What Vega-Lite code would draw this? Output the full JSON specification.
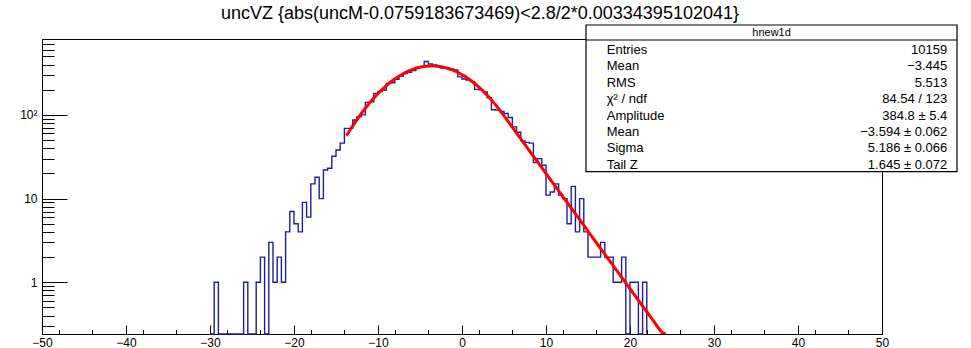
{
  "$schema": "https://vega.github.io/schema/vega-lite/v6.json",
  "width": 840,
  "height": 295,
  "autosize": {"type": "none"},
  "padding": {"left": 42, "top": 39, "right": 89, "bottom": 14},
  "background": "white",
  "title": {
    "text": "uncVZ {abs(uncM-0.0759183673469)<2.8/2*0.00334395102041}",
    "font": "Liberation Sans", "fontSize": 18, "fontWeight": "normal", "color": "black",
    "anchor": "middle", "dx": 18, "offset": -13, "baseline": "alphabetic"
  },
  "config": {
    "view": {"stroke": "black", "strokeWidth": 1},
    "axis": {"domainColor": "black", "tickColor": "black", "labelColor": "black", "labelFont": "Liberation Sans", "labelFontSize": 12, "grid": false, "title": null, "domainWidth": 1, "tickWidth": 1}
  },
  "datasets": {
    "hist": [
      {"x":-30,"n":0},{"x":-29.5,"n":1},{"x":-29,"n":0},{"x":-28.5,"n":0},{"x":-28,"n":0},{"x":-27.5,"n":0},{"x":-27,"n":0},{"x":-26.5,"n":0},{"x":-26,"n":1},{"x":-25.5,"n":0},{"x":-25,"n":0},{"x":-24.5,"n":1},{"x":-24,"n":2},{"x":-23.5,"n":0},{"x":-23,"n":3},{"x":-22.5,"n":1},{"x":-22,"n":2},{"x":-21.5,"n":1},{"x":-21,"n":4},{"x":-20.5,"n":7},{"x":-20,"n":5},{"x":-19.5,"n":4},{"x":-19,"n":9},{"x":-18.5,"n":6},{"x":-18,"n":15},{"x":-17.5,"n":18},{"x":-17,"n":10},{"x":-16.5,"n":22},{"x":-16,"n":23},{"x":-15.5,"n":32},{"x":-15,"n":38},{"x":-14.5,"n":46},{"x":-14,"n":69},{"x":-13.5,"n":69},{"x":-13,"n":87},{"x":-12.5,"n":95},{"x":-12,"n":100},{"x":-11.5,"n":141},{"x":-11,"n":143},{"x":-10.5,"n":181},{"x":-10,"n":190},{"x":-9.5,"n":198},{"x":-9,"n":238},{"x":-8.5,"n":242},{"x":-8,"n":266},{"x":-7.5,"n":292},{"x":-7,"n":313},{"x":-6.5,"n":322},{"x":-6,"n":338},{"x":-5.5,"n":370},{"x":-5,"n":372},{"x":-4.5,"n":435},{"x":-4,"n":405},{"x":-3.5,"n":394},{"x":-3,"n":382},{"x":-2.5,"n":362},{"x":-2,"n":361},{"x":-1.5,"n":355},{"x":-1,"n":344},{"x":-0.5,"n":285},{"x":0,"n":268},{"x":0.5,"n":261},{"x":1,"n":250},{"x":1.5,"n":202},{"x":2,"n":200},{"x":2.5,"n":188},{"x":3,"n":160},{"x":3.5,"n":115},{"x":4,"n":114},{"x":4.5,"n":110},{"x":5,"n":104},{"x":5.5,"n":93},{"x":6,"n":72},{"x":6.5,"n":62},{"x":7,"n":49},{"x":7.5,"n":47},{"x":8,"n":46},{"x":8.5,"n":27},{"x":9,"n":30},{"x":9.5,"n":25},{"x":10,"n":11},{"x":10.5,"n":12},{"x":11,"n":15},{"x":11.5,"n":11},{"x":12,"n":10},{"x":12.5,"n":5},{"x":13,"n":14},{"x":13.5,"n":4},{"x":14,"n":10},{"x":14.5,"n":4},{"x":15,"n":2},{"x":15.5,"n":2},{"x":16,"n":2},{"x":16.5,"n":3},{"x":17,"n":2},{"x":17.5,"n":2},{"x":18,"n":1},{"x":18.5,"n":1},{"x":19,"n":2},{"x":19.5,"n":0},{"x":20,"n":1},{"x":20.5,"n":1},{"x":21,"n":0},{"x":21.5,"n":1},{"x":22,"n":0}
    ],
    "fit": [
      {"x":-13.75,"f":56.5},{"x":-13.25,"f":67.9},{"x":-12.75,"f":81.0},{"x":-12.25,"f":95.5},{"x":-11.75,"f":111.7},{"x":-11.25,"f":129.4},{"x":-10.75,"f":148.5},{"x":-10.25,"f":168.9},{"x":-9.75,"f":190.3},{"x":-9.25,"f":212.3},{"x":-8.75,"f":234.7},{"x":-8.25,"f":257.2},{"x":-7.75,"f":279.1},{"x":-7.25,"f":300.1},{"x":-6.75,"f":319.7},{"x":-6.25,"f":337.5},{"x":-5.75,"f":352.9},{"x":-5.25,"f":365.7},{"x":-4.75,"f":375.4},{"x":-4.25,"f":381.7},{"x":-3.75,"f":384.6},{"x":-3.25,"f":384.0},{"x":-2.75,"f":379.7},{"x":-2.25,"f":372.1},{"x":-1.75,"f":361.2},{"x":-1.25,"f":347.4},{"x":-0.75,"f":331.1},{"x":-0.25,"f":312.6},{"x":0.25,"f":292.4},{"x":0.75,"f":270.9},{"x":1.25,"f":248.8},{"x":1.75,"f":226.3},{"x":2.25,"f":203.9},{"x":2.75,"f":182.1},{"x":3.25,"f":161.1},{"x":3.75,"f":141.2},{"x":4.25,"f":122.6},{"x":4.75,"f":105.5},{"x":5.25,"f":90.06},{"x":5.75,"f":76.85},{"x":6.25,"f":65.58},{"x":6.75,"f":55.96},{"x":7.25,"f":47.75},{"x":7.75,"f":40.75},{"x":8.25,"f":34.77},{"x":8.75,"f":29.67},{"x":9.25,"f":25.32},{"x":9.75,"f":21.6},{"x":10.25,"f":18.43},{"x":10.75,"f":15.73},{"x":11.25,"f":13.42},{"x":11.75,"f":11.45},{"x":12.25,"f":9.773},{"x":12.75,"f":8.339},{"x":13.25,"f":7.116},{"x":13.75,"f":6.072},{"x":14.25,"f":5.181},{"x":14.75,"f":4.421},{"x":15.25,"f":3.773},{"x":15.75,"f":3.219},{"x":16.25,"f":2.747},{"x":16.75,"f":2.344},{"x":17.25,"f":2.0},{"x":17.75,"f":1.707},{"x":18.25,"f":1.457},{"x":18.75,"f":1.243},{"x":19.25,"f":1.061},{"x":19.75,"f":0.905},{"x":20.25,"f":0.772},{"x":20.75,"f":0.659},{"x":21.25,"f":0.562},{"x":21.75,"f":0.48},{"x":22.25,"f":0.41},{"x":22.75,"f":0.35},{"x":23.25,"f":0.298},{"x":23.75,"f":0.255},{"x":24.25,"f":0.217}
    ],
    "stats": [
      {"row":1,"label":"Entries","value":"10159"},
      {"row":2,"label":"Mean","value":"−3.445"},
      {"row":3,"label":"RMS","value":"5.513"},
      {"row":4,"label":"χ² / ndf","value":"84.54 / 123"},
      {"row":5,"label":"Amplitude","value":"384.8 ± 5.4"},
      {"row":6,"label":"Mean","value":"−3.594 ± 0.062"},
      {"row":7,"label":"Sigma","value":"5.186 ± 0.066"},
      {"row":8,"label":"Tail Z","value":"1.645 ± 0.072"}
    ]
  },
  "layer": [
    {
      "layer": [
        {
          "data": {"name": "hist"},
          "mark": {"type": "line", "interpolate": "step-after", "color": "#1f1f99", "strokeWidth": 1.4},
          "encoding": {
            "x": {"field": "x", "type": "quantitative",
              "scale": {"domain": [-50, 50], "nice": false, "zero": false},
              "axis": {
                "orient": "bottom",
                "values": [-50,-40,-30,-20,-10,0,10,20,30,40,50],
                "tickSize": -9,
                "labelPadding": 12, "labelFlush": false, "labelOverlap": false
              }
            },
            "y": {"field": "n", "type": "quantitative",
              "scale": {"type": "log", "domain": [0.241, 807], "nice": false, "clamp": true},
              "axis": {
                "orient": "left",
                "values": [0.3,0.4,0.5,0.6,0.7,0.8,0.9,1,2,3,4,5,6,7,8,9,10,20,30,40,50,60,70,80,90,100,200,300,400,500,600,700,800],
                "labelExpr": "datum.value == 1 ? '1' : datum.value == 10 ? '10' : datum.value == 100 ? '10²' : ''",
                "tickSize": {"condition": {"test": "datum.value == 1 || datum.value == 10 || datum.value == 100", "value": -25}, "value": -12},
                "labelPadding": 30, "labelOverlap": false, "labelFlush": false
              }
            }
          }
        },
        {
          "data": {"name": "fit"},
          "mark": {"type": "line", "color": "#ff0000", "strokeWidth": 3, "clip": true, "interpolate": "monotone"},
          "encoding": {
            "x": {"field": "x", "type": "quantitative"},
            "y": {"field": "f", "type": "quantitative"}
          }
        }
      ]
    },
    {
      "layer": [
        {
          "data": {"values": [{"box": "stats"}]},
          "mark": {"type": "rect", "fill": "white", "stroke": "black", "strokeWidth": 1.2},
          "encoding": {
            "x": {"datum": 14.76, "type": "quantitative",
              "scale": {"domain": [-50, 50], "nice": false, "zero": false},
              "axis": {
                "orient": "bottom",
                "values": [-48,-46,-44,-42,-38,-36,-34,-32,-28,-26,-24,-22,-18,-16,-14,-12,-8,-6,-4,-2,2,4,6,8,12,14,16,18,22,24,26,28,32,34,36,38,42,44,46,48],
                "tickSize": -4.5, "labels": false, "domain": false
              }
            },
            "x2": {"datum": 58.93},
            "y": {"datum": -0.524, "type": "quantitative", "scale": {"domain": [0.329, 18.32], "reverse": true, "nice": false, "zero": false}, "axis": null},
            "y2": {"datum": 8.42}
          }
        },
        {
          "data": {"values": [{"box": "stats"}]},
          "mark": {"type": "rule", "color": "black", "strokeWidth": 1},
          "encoding": {
            "x": {"datum": 14.76, "type": "quantitative"},
            "x2": {"datum": 58.93},
            "y": {"datum": 0.39, "type": "quantitative"}
          }
        },
        {
          "data": {"values": [{"name": "hnew1d"}]},
          "mark": {"type": "text", "align": "center", "baseline": "middle", "font": "Liberation Sans", "fontSize": 11, "color": "black"},
          "encoding": {
            "x": {"datum": 36.85, "type": "quantitative"},
            "y": {"datum": -0.067, "type": "quantitative"},
            "text": {"field": "name"}
          }
        },
        {
          "data": {"name": "stats"},
          "mark": {"type": "text", "align": "left", "baseline": "middle", "font": "Liberation Sans", "fontSize": 13, "color": "black"},
          "encoding": {
            "x": {"datum": 17.23, "type": "quantitative"},
            "y": {"field": "row", "type": "quantitative"},
            "text": {"field": "label"}
          }
        },
        {
          "data": {"name": "stats"},
          "mark": {"type": "text", "align": "right", "baseline": "middle", "font": "Liberation Sans", "fontSize": 13, "color": "black"},
          "encoding": {
            "x": {"datum": 57.77, "type": "quantitative"},
            "y": {"field": "row", "type": "quantitative"},
            "text": {"field": "value"}
          }
        }
      ]
    }
  ],
  "resolve": {"scale": {"x": "independent", "y": "independent"}}
}
